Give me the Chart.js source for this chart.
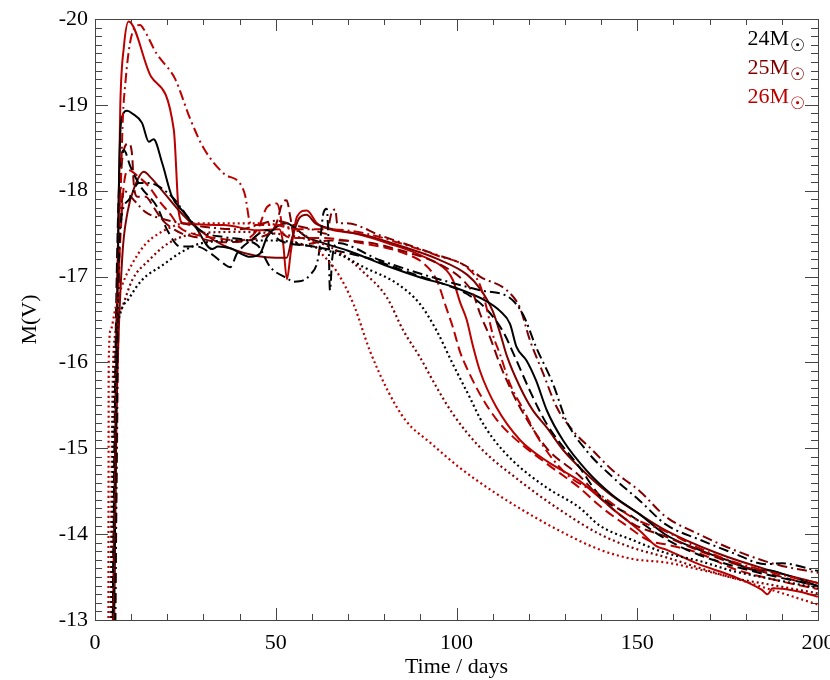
<!DOCTYPE html>
<html>
<head>
<meta charset="utf-8">
<script src="https://cdn.jsdelivr.net/npm/chart.js@4.4.1/dist/chart.umd.min.js"></script>
<style>
    html, body { margin: 0; padding: 0; background: #fff; }
    canvas { display: block; }
</style>
</head>
<body>
<canvas id="lightCurves" width="830" height="680"></canvas>
<script>
// [day, M(V)] pairs
const m24Solid = [[5.2, -12.5], [6, -16], [6.6, -18.0], [7, -18.67], [7.5, -18.86], [8.9, -18.93], [10.3, -18.9], [13, -18.79], [14.9, -18.57], [16.2, -18.6], [18.6, -18.32], [21.3, -17.93], [24.1, -17.77], [27.8, -17.58], [32.4, -17.32], [34, -17.35], [37.4, -17.33], [43, -17.23], [45.7, -17.27], [47.6, -17.46], [50.3, -17.58], [53, -17.62], [54.9, -17.58], [58.6, -17.46], [63.2, -17.39], [70, -17.3], [81, -17.12], [90, -16.99], [99, -16.88], [108, -16.72], [112, -16.6], [114.8, -16.45], [116.6, -16.18], [119.4, -16.02], [122, -15.79], [125, -15.44], [129.5, -15.09], [136, -14.74], [143, -14.46], [150.7, -14.23], [158, -13.99], [167, -13.82], [176, -13.68], [183, -13.58], [186, -13.58], [190, -13.54], [198.4, -13.42], [200, -13.39]];
const m24Dashed = [[4.8, -12.5], [5.8, -16.5], [7, -18.3], [8, -18.47], [9.8, -18.28], [12.6, -18.05], [17.2, -17.81], [20, -17.54], [23.6, -17.35], [28.2, -17.35], [32, -17.27], [35.6, -17.15], [37.4, -17.11], [39.3, -17.27], [43, -17.42], [47.6, -17.54], [51.2, -17.42], [60.4, -17.35], [74.3, -17.23], [88, -17.03], [97.3, -16.9], [102.8, -16.8], [108.3, -16.62], [113, -16.35], [116, -16.08], [120.3, -15.67], [125, -15.28], [134, -14.78], [139.6, -14.45], [148.8, -14.2], [158, -13.94], [167, -13.76], [176.5, -13.63], [185.7, -13.53], [200, -13.4]];
const m24DashDot = [[5.5, -12.5], [6.3, -16.5], [7, -17.58], [9.3, -17.89], [12.1, -18.09], [14.9, -18.09], [17.6, -18.05], [22.2, -17.89], [23.6, -17.81], [29.1, -17.54], [35.6, -17.46], [44.8, -17.37], [48.5, -17.11], [53.1, -16.98], [55, -16.94], [59.5, -17.02], [61.8, -17.23], [63.2, -17.74], [64.1, -17.79], [64.6, -17.42], [65, -16.84], [65.6, -17.2], [66.9, -17.39], [78.9, -17.19], [92.7, -17.0], [106.5, -16.84], [114.8, -16.75], [118.5, -16.55], [122, -16.18], [126.7, -15.75], [130.4, -15.32], [136, -14.97], [143.3, -14.66], [150.7, -14.39], [158, -14.11], [167, -13.94], [176.5, -13.78], [185.7, -13.65], [190, -13.66], [200, -13.57]];
const m24Dotted = [[4.5, -12.5], [5.2, -15.5], [6, -16.3], [7, -16.57], [9.3, -16.74], [13, -16.96], [18.6, -17.13], [24.1, -17.29], [29.6, -17.39], [40, -17.42], [50, -17.42], [60, -17.35], [68, -17.25], [74.3, -17.11], [83.5, -16.92], [89.9, -16.68], [94.5, -16.37], [99, -15.98], [103.7, -15.59], [106.5, -15.35], [110, -15.12], [115.7, -14.85], [125, -14.54], [134, -14.31], [139.6, -14.1], [148.8, -13.93], [158, -13.78], [167, -13.69], [176.5, -13.57], [185.7, -13.49], [200, -13.37]];

const m25Solid = [[5, -12.5], [6, -15.5], [7.5, -17.2], [9, -17.75], [11, -18.05], [13.5, -18.22], [15.5, -18.15], [18.6, -18.0], [23.2, -17.77], [27.8, -17.58], [33, -17.42], [38, -17.32], [44.8, -17.24], [50, -17.22], [53, -17.22], [54.5, -17.45], [56.5, -17.68], [58.5, -17.72], [61, -17.62], [66, -17.55], [75, -17.48], [85, -17.35], [95, -17.2], [103, -17.02], [106.5, -16.86], [110, -16.6], [112, -16.35], [113.9, -16.08], [117.5, -15.72], [121, -15.45], [125, -15.24], [129.5, -14.98], [134, -14.78], [142, -14.48], [150.7, -14.23], [158, -14.04], [172, -13.78], [185.7, -13.59], [200, -13.43]];
const m25Dashed = [[4.8, -12.5], [5.8, -16], [7, -18.0], [8, -18.48], [9.3, -18.55], [10.3, -18.4], [10.7, -18.09], [11.7, -17.93], [14, -17.93], [16.2, -17.81], [18.6, -17.66], [22.2, -17.54], [24.1, -17.5], [27.8, -17.46], [35, -17.4], [45, -17.45], [50, -17.6], [52, -17.87], [53, -17.89], [54, -17.7], [55, -17.46], [56.8, -17.37], [65, -17.42], [75, -17.4], [85, -17.3], [95, -17.15], [102, -16.95], [104.6, -16.8], [106.5, -16.57], [109.3, -16.29], [112, -15.98], [113.9, -15.79], [117.5, -15.48], [125, -15.0], [134, -14.68], [139.6, -14.43], [148.8, -14.12], [158, -13.97], [167, -13.81], [176.5, -13.66], [185.7, -13.55], [200, -13.39]];
const m25DashDot = [[5, -12.5], [6, -16.5], [7, -17.6], [8, -18.0], [9.5, -17.95], [11, -17.88], [14, -17.75], [18, -17.68], [24, -17.62], [30, -17.58], [40, -17.55], [45, -17.6], [50, -17.65], [55, -17.6], [60, -17.55], [64, -17.5], [65.5, -17.75], [66.5, -17.78], [67, -17.62], [69.7, -17.62], [78.9, -17.48], [92.7, -17.28], [102.8, -17.12], [106.5, -17.0], [113.9, -16.84], [117.5, -16.64], [120.3, -16.26], [124, -15.87], [127.7, -15.48], [132.3, -15.2], [137.8, -14.97], [143, -14.75], [150.7, -14.5], [158, -14.2], [167, -14.0], [176.5, -13.82], [185.7, -13.68], [190, -13.63], [200, -13.55]];
const m25Dotted = [[4.2, -12.5], [4.8, -15.5], [5.7, -16.37], [7.5, -16.64], [10.3, -16.96], [14.9, -17.19], [20.4, -17.39], [27.8, -17.5], [40, -17.52], [50, -17.5], [60, -17.42], [67, -17.3], [74.3, -17.05], [80.7, -16.76], [85.3, -16.37], [89.9, -16.06], [94.5, -15.71], [99, -15.4], [106.5, -15.01], [117.5, -14.62], [128, -14.3], [139.6, -14.0], [148.8, -13.84], [158, -13.73], [167, -13.61], [176.5, -13.49], [185.7, -13.42], [200, -13.31]];

const m26Solid = [[4.8, -12.5], [6, -16.5], [7, -19], [8, -19.68], [9.3, -19.97], [15.5, -19.33], [21.8, -18.71], [23.2, -17.74], [24.5, -17.62], [35.6, -17.6], [45, -17.54], [51, -17.55], [52, -17.4], [53.1, -16.97], [54.2, -17.3], [55.9, -17.7], [58.6, -17.77], [61.4, -17.62], [65, -17.55], [72, -17.5], [81.6, -17.38], [90, -17.25], [97.3, -17.07], [99, -16.96], [101, -16.7], [102.8, -16.5], [104.5, -16.2], [106.5, -15.9], [111, -15.48], [117.5, -15.1], [125, -14.85], [134, -14.62], [143, -14.3], [150.7, -14.04], [155.3, -13.86], [158, -13.82], [167, -13.65], [176.5, -13.51], [184.5, -13.35], [186, -13.3], [187.5, -13.37], [195, -13.33], [200, -13.27]];
const m26Dashed = [[5, -12.5], [6, -16], [7.5, -17.8], [9.3, -18.24], [12.1, -18.16], [14.9, -18.05], [17.6, -17.89], [21.3, -17.7], [23.2, -17.58], [27, -17.5], [33, -17.45], [40, -17.42], [45, -17.55], [47.6, -17.81], [50.3, -17.85], [51.2, -17.74], [52, -17.5], [55, -17.45], [62, -17.45], [75, -17.38], [85, -17.28], [91, -17.15], [94.5, -16.96], [97.3, -16.62], [99, -16.41], [101, -16.12], [102.8, -15.94], [106.5, -15.63], [111, -15.34], [115.7, -15.13], [125, -14.82], [134, -14.54], [139.6, -14.33], [147, -14.1], [153.5, -13.92], [158, -13.88], [167, -13.78], [176.5, -13.6], [185.7, -13.49], [200, -13.36]];
const m26DashDot = [[5.5, -12.5], [6.5, -16.5], [7.5, -18.6], [8.5, -19.3], [10.7, -19.88], [12.5, -19.93], [13.5, -19.88], [17, -19.6], [20.9, -19.39], [22.2, -19.3], [26.4, -18.83], [30, -18.5], [35.6, -18.2], [40.2, -18.08], [41.5, -17.95], [43, -17.62], [45, -17.6], [50, -17.6], [55, -17.55], [60, -17.55], [65, -17.55], [75, -17.5], [85, -17.38], [95, -17.24], [103, -17.1], [106.5, -16.9], [108.3, -16.64], [110, -16.33], [112, -16.1], [114.8, -15.75], [118.5, -15.45], [123, -15.09], [130.4, -14.7], [139.6, -14.46], [148.8, -14.19], [158, -14.03], [167, -13.84], [176.5, -13.68], [185.7, -13.57], [200, -13.43]];
const m26Dotted = [[3.7, -12.5], [3.8, -16.0], [4.3, -16.37], [5.7, -16.64], [7.5, -16.9], [10.3, -17.15], [14, -17.38], [17.6, -17.5], [21.3, -17.58], [25, -17.62], [45, -17.62], [55, -17.55], [59, -17.45], [62, -17.3], [67, -17.05], [71.5, -16.68], [76, -16.14], [81, -15.67], [86, -15.32], [92.6, -15.07], [101, -14.77], [110, -14.5], [117.5, -14.3], [128, -14.05], [139.6, -13.82], [148.8, -13.71], [158, -13.67], [167, -13.59], [176.5, -13.49], [185.7, -13.37], [200, -13.18]];

const massLabels = ['24', '25', '26'];
const xTickStep = 50;
const yTickStep = 1;

const massColors = { '24': '#000000', '25': '#800000', '26': '#bb0000' };
const dashStyles = {
    solid: [],
    dashed: [10, 5],
    dashDot: [10, 4, 2, 4],
    dotted: [2, 3],
};

const series = [
    ['24', 'dotted', m24Dotted], ['25', 'dotted', m25Dotted], ['26', 'dotted', m26Dotted],
    ['24', 'dashDot', m24DashDot], ['25', 'dashDot', m25DashDot], ['26', 'dashDot', m26DashDot],
    ['24', 'dashed', m24Dashed], ['25', 'dashed', m25Dashed], ['26', 'dashed', m26Dashed],
    ['24', 'solid', m24Solid], ['25', 'solid', m25Solid], ['26', 'solid', m26Solid],
];

const serif = 'Liberation Serif, Times New Roman, serif';

// IDL style frame with inward major/minor ticks on all four sides
const frameTicks = {
    id: 'frameTicks',
    beforeDatasetsDraw(chart) {
        const { ctx, chartArea: a, scales: { x, y } } = chart;
        ctx.save();
        ctx.strokeStyle = '#444';
        ctx.lineWidth = 1;
        ctx.beginPath();
        for (let v = x.min; v <= x.max + 1e-6; v += 10) {
            const px = Math.round(x.getPixelForValue(v)) + 0.5;
            const len = v % xTickStep === 0 ? 12 : 6;
            ctx.moveTo(px, a.bottom);
            ctx.lineTo(px, a.bottom - len);
            ctx.moveTo(px, a.top);
            ctx.lineTo(px, a.top + len);
        }
        for (let i = 0; i <= 70; i++) {
            const v = y.min + i / 10;
            const py = Math.round(y.getPixelForValue(v)) + 0.5;
            const len = i % 10 === 0 ? 13 : 7;
            ctx.moveTo(a.left, py);
            ctx.lineTo(a.left + len, py);
            ctx.moveTo(a.right, py);
            ctx.lineTo(a.right - len, py);
        }
        ctx.stroke();
        ctx.strokeRect(Math.round(a.left) + 0.5, Math.round(a.top) + 0.5,
            Math.round(a.right - a.left), Math.round(a.bottom - a.top));
        ctx.restore();
    },
};

// mass labels in the top right corner
const massLegend = {
    id: 'massLegend',
    afterDraw(chart) {
        const { ctx, chartArea: a } = chart;
        ctx.save();
        massLabels.forEach((m, i) => {
            const baseY = a.top + 26 + i * 29;
            const rightX = a.right - 29;
            ctx.fillStyle = massColors[m];
            ctx.font = '22px ' + serif;
            ctx.textAlign = 'right';
            ctx.textBaseline = 'alphabetic';
            ctx.fillText(m + 'M', rightX, baseY);
            ctx.font = '17px DejaVu Sans';
            ctx.textAlign = 'left';
            ctx.fillText('\u2609', rightX + 1, baseY + 6);
        });
        ctx.restore();
    },
};

new Chart(document.getElementById('lightCurves'), {
    type: 'line',
    data: {
        datasets: series.map(([mass, style, points]) => ({
            label: mass + ' ' + style,
            data: points.map(([x, y]) => ({ x, y })),
            borderColor: massColors[mass],
            borderDash: dashStyles[style],
            borderWidth: style === 'dotted' ? 2.2 : 2,
            borderCapStyle: 'butt',
            pointRadius: 0,
            fill: false,
            cubicInterpolationMode: 'monotone',
        })),
    },
    options: {
        responsive: false,
        animation: false,
        layout: { padding: { top: 19, right: 12, left: 0, bottom: 0 } },
        plugins: {
            legend: { display: false },
            tooltip: { enabled: false },
        },
        scales: {
            x: {
                type: 'linear',
                min: 0,
                max: 200,
                border: { display: false },
                grid: { display: false, drawTicks: false },
                ticks: {
                    stepSize: xTickStep,
                    color: '#000',
                    padding: 10,
                    maxRotation: 0,
                    font: { family: serif, size: 22 },
                },
                title: {
                    display: true,
                    text: 'Time / days',
                    color: '#000',
                    padding: { top: 0, bottom: 0 },
                    font: { family: serif, size: 22 },
                },
                afterFit: (scale) => {
                    scale.height = 60;
                    scale.paddingLeft = 0;
                    scale.paddingRight = 0;
                },
            },
            y: {
                type: 'linear',
                reverse: true,
                min: -20,
                max: -13,
                border: { display: false },
                grid: { display: false, drawTicks: false },
                ticks: {
                    stepSize: yTickStep,
                    color: '#000',
                    padding: 7,
                    font: { family: serif, size: 22 },
                },
                title: {
                    display: true,
                    text: 'M(V)',
                    color: '#000',
                    padding: { top: 17, bottom: 0 },
                    font: { family: serif, size: 22 },
                },
                afterFit: (scale) => {
                    scale.width = 95;
                    scale.paddingTop = 0;
                    scale.paddingBottom = 0;
                },
            },
        },
    },
    plugins: [frameTicks, massLegend],
});
</script>
</body>
</html>
